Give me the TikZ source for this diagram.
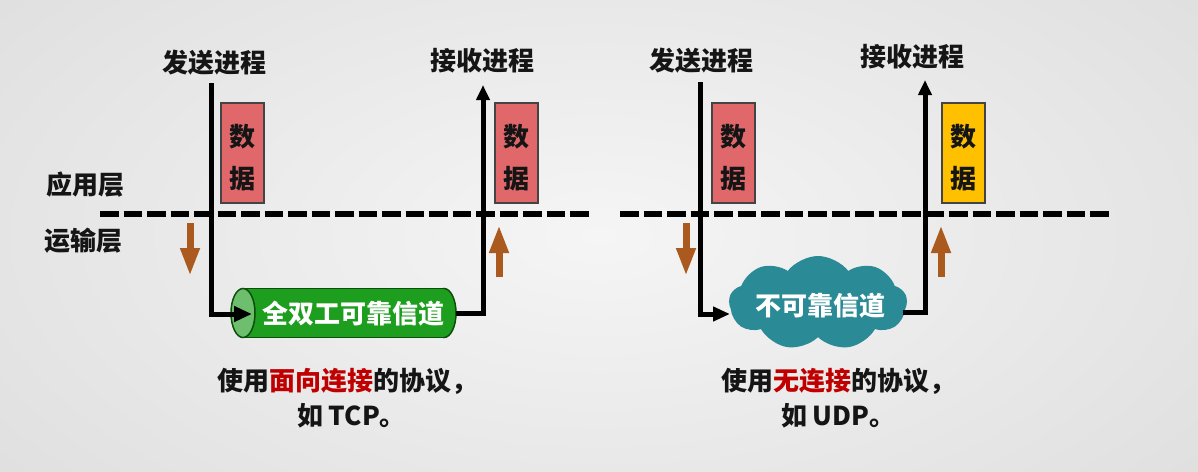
\documentclass[tikz,border=0pt]{standalone}
\usepackage{fontspec}
\setmainfont{Noto Sans CJK SC}
\usetikzlibrary{arrows.meta,shapes.symbols}
\definecolor{bgin}{HTML}{F5F5F5}
\definecolor{bgout}{HTML}{E0E0E0}
\definecolor{boxred}{HTML}{E0686A}
\definecolor{boxyellow}{HTML}{FFC000}
\definecolor{boxline}{HTML}{444444}
\definecolor{brownc}{HTML}{AA5A1E}
\definecolor{darkred}{HTML}{C00000}
\definecolor{cylbody}{HTML}{1E9E1E}
\definecolor{cylend}{HTML}{6DBF6D}
\definecolor{cylline}{HTML}{0B4F0B}
\definecolor{cloudc}{HTML}{2A8A96}
\definecolor{ink}{HTML}{151515}
\begin{document}
\begin{tikzpicture}[x=1pt,y=-1pt,
  every node/.style={inner sep=0pt, outer sep=0pt, text=ink},
  txt/.style={font=\fontsize{26}{30}\selectfont\bfseries},
  databox/.style={draw=boxline, line width=1.5pt, minimum width=43pt, minimum height=100pt},
  conn/.style={line width=5pt, draw=black},
  brownarr/.style={line width=7pt, draw=brownc, -{Triangle[length=28pt,width=18pt]}},
  dashline/.style={line width=5.5pt, draw=black, dash pattern=on 18.5pt off 5pt},
  wtxt/.style={txt, text=white}
]
\useasboundingbox (0,0) rectangle (1198,471);
\shade[inner color=bgin, outer color=bgout] (-150,-150) rectangle (1348,621);

% layer labels
\node[txt] (app) at (85,185) {应用层};
\node[txt] (trans) at (83,241) {运输层};

% dashed layer boundaries
\coordinate (dl1a) at (100,214);
\coordinate (dl1b) at (589,214);
\coordinate (dl2a) at (620,214);
\coordinate (dl2b) at (1109,214);
\draw[dashline] (dl1a) -- (dl1b);
\draw[dashline] (dl2a) -- (dl2b);

% process labels
\node[txt] (s1) at (214,63) {发送进程};
\node[txt] (r1) at (482,61) {接收进程};
\node[txt] (s2) at (701,61) {发送进程};
\node[txt] (r2) at (912,57) {接收进程};

% data boxes
\node[databox, fill=boxred] (d1) at (242.5,153) {};
\node[txt] (d1a) at (242.5,137) {数};
\node[txt] (d1b) at (242.5,179) {据};
\node[databox, fill=boxred] (d2) at (516.5,153) {};
\node[txt] (d2a) at (516.5,137) {数};
\node[txt] (d2b) at (516.5,179) {据};
\node[databox, fill=boxred] (d3) at (733.5,153) {};
\node[txt] (d3a) at (733.5,137) {数};
\node[txt] (d3b) at (733.5,179) {据};
\node[databox, fill=boxyellow] (d4) at (963.5,153) {};
\node[txt] (d4a) at (963.5,137) {数};
\node[txt] (d4b) at (963.5,179) {据};

% brown direction arrows
\coordinate (b1s) at (190,223); \coordinate (b1e) at (190,276);
\coordinate (b2s) at (499,277); \coordinate (b2e) at (499,225);
\coordinate (b3s) at (686,223); \coordinate (b3e) at (686,276);
\coordinate (b4s) at (941,277); \coordinate (b4e) at (941,225);
\draw[brownarr] (b1s) -- (b1e);
\draw[brownarr] (b2s) -- (b2e);
\draw[brownarr] (b3s) -- (b3e);
\draw[brownarr] (b4s) -- (b4e);

% cylinder (full duplex reliable channel)
\node[minimum width=225pt, minimum height=49pt] (cyl) at (343.5,313) {};
\fill[cylbody, draw=cylline, line width=1.5pt] (444,313) ellipse [x radius=12pt, y radius=24.5pt];
\fill[cylbody] (243,288.5) rectangle (444,337.5);
\draw[cylline, line width=1.5pt] (243,288.5) -- (444,288.5);
\draw[cylline, line width=1.5pt] (243,337.5) -- (444,337.5);
\fill[cylend, draw=cylline, line width=1.5pt] (243,313) ellipse [x radius=12pt, y radius=24.5pt];
\node[wtxt] (cylt) at (353,314) {全双工可靠信道};

% cloud (unreliable channel)
\node[cloud, cloud puffs=9, cloud puff arc=105, aspect=1.9, fill=cloudc,
      minimum width=178pt, minimum height=94pt] (cld) at (818,303) {};
\node[wtxt] (cldt) at (820,306) {不可靠信道};

% connectors
\coordinate (s1top) at (211,83);
\coordinate (s1bot) at (211,314);
\coordinate (cylin) at (252,314);
\coordinate (r1tip) at (483,85);
\draw[conn, -{Triangle[length=18pt,width=15pt]}] (s1top) -- (s1bot) -- (cylin);
\draw[conn, -{Triangle[length=15pt,width=13pt]}] (cyl.east) -| (r1tip);

\coordinate (s2top) at (700,82);
\coordinate (s2bot) at (700,314);
\coordinate (cldin) at (730,314);
\coordinate (cldout) at (903,312);
\coordinate (r2tip) at (925,80);
\draw[conn, -{Triangle[length=17pt,width=14pt]}] (s2top) -- (s2bot) -- (cldin);
\draw[conn, -{Triangle[length=15pt,width=13pt]}] (cldout) -| (r2tip);

% captions
\node[txt, anchor=west] (t1a) at (217,381) {使用\textcolor{darkred}{面向连接}的协议，};
\node[txt, anchor=west] (t1b) at (297,416) {如 TCP。};
\node[txt, anchor=west] (t2a) at (721,381) {使用\textcolor{darkred}{无连接}的协议，};
\node[txt, anchor=west] (t2b) at (781,416) {如 UDP。};
\end{tikzpicture}
\end{document}
